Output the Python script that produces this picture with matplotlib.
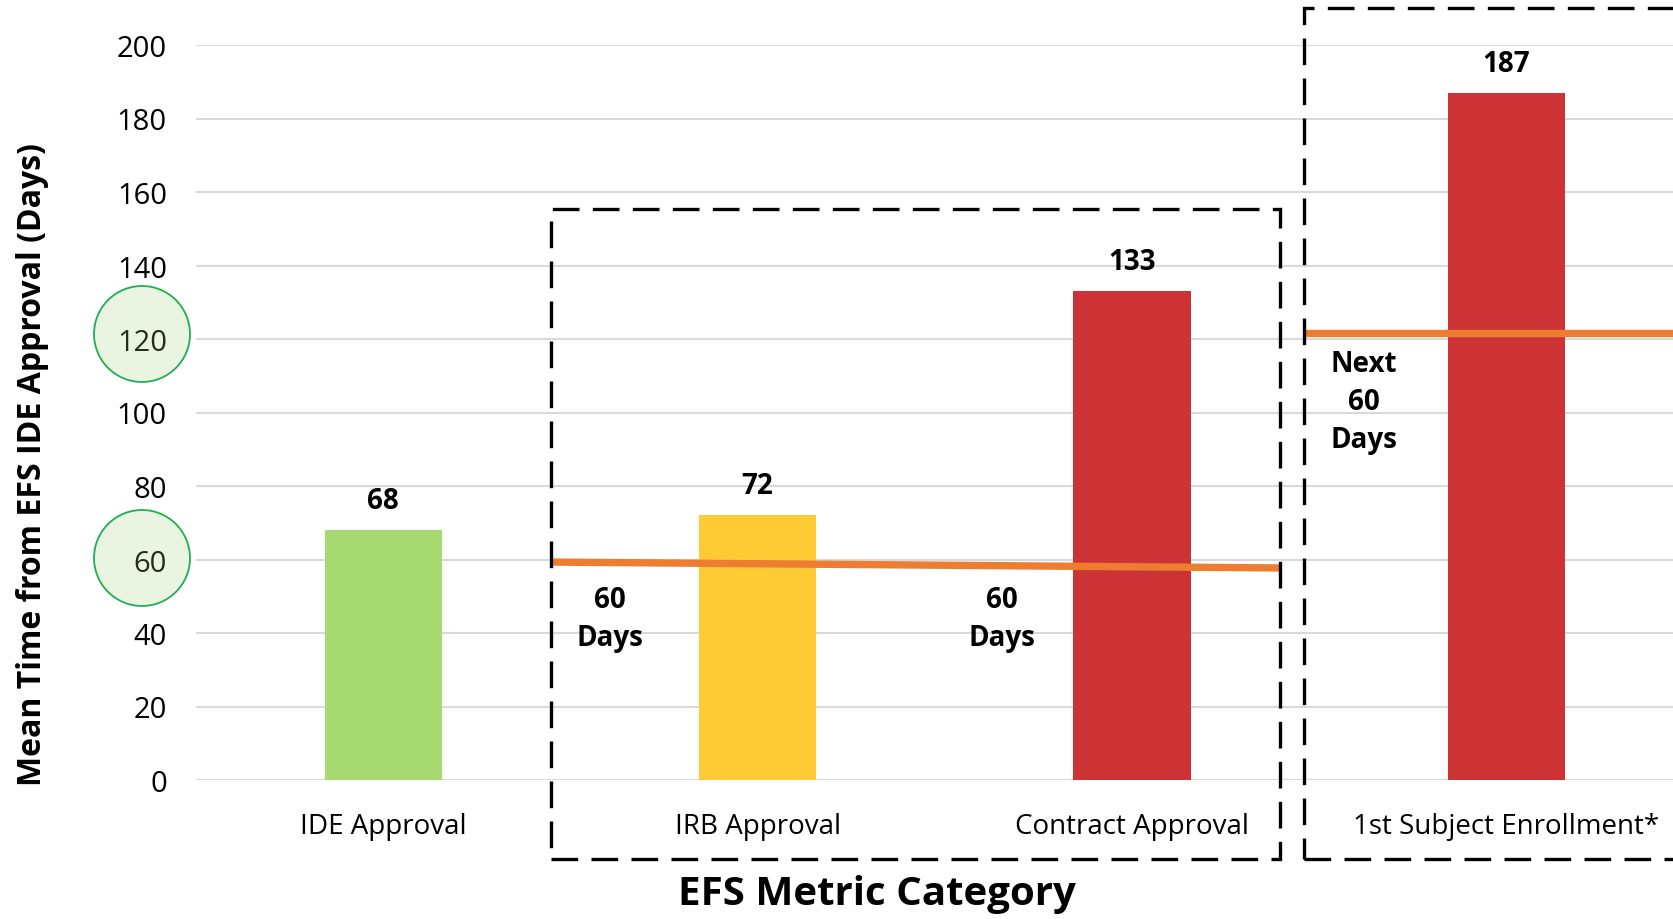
import matplotlib.pyplot as plt
from matplotlib.patches import Rectangle, Ellipse

plt.rcParams['font.family'] = ['Open Sans', 'DejaVu Sans']

# data
categories = ["IDE Approval", "IRB Approval", "Contract Approval", "1st Subject Enrollment*"]
mean_days = [68, 72, 133, 187]
bar_colors = ["#A6D96F", "#FECB35", "#CD3234", "#CD3234"]

# 60-day target lines (x in category units, y in days)
target1_x = [0.449, 2.395]
target1_y = [59.3, 57.7]
target2_x = [2.459, 3.6]
target2_y = [121.6, 121.6]

notes = ["60\nDays", "60\nDays", "Next\n60\nDays"]
notes_x = [0.606, 1.653, 2.62]
notes_y = [44.0, 44.0, 103]

fig = plt.figure(figsize=(16.73, 9.2), dpi=100)
ax = fig.add_axes([196 / 1673, 139 / 920, 1 - 196 / 1673, 735 / 920])

x = list(range(len(categories)))
ax.bar(x, mean_days, width=0.313, color=bar_colors, zorder=2)
for xi, v in zip(x, mean_days):
    ax.text(xi, v + 8.0, str(v), ha='center', va='center', fontsize=20, fontweight='bold')

ax.set_xlim(-0.5, 3.445)
ax.set_ylim(0, 200)
ax.set_yticks(range(0, 201, 20))
ax.set_xticks(x)
ax.set_xticklabels(categories)
ax.tick_params(axis='both', length=0)
ax.tick_params(axis='y', pad=21, labelsize=21)
ax.tick_params(axis='x', pad=23, labelsize=20)
ax.grid(axis='y', color='#D9D9D9', linewidth=1.5, zorder=0)
ax.set_axisbelow(True)
for s in ax.spines.values():
    s.set_visible(False)

ax.set_ylabel("Mean Time from EFS IDE Approval (Days)", fontsize=23, fontweight='bold')
ax.yaxis.set_label_coords(-0.111, 0.431)
ax.set_xlabel("EFS Metric Category", fontsize=29, fontweight='bold')
ax.xaxis.set_label_coords(0.461, -0.154)
ax.xaxis.label.set_va('center')
ax.yaxis.label.set_va('center')

# orange target lines
ax.plot(target1_x, target1_y, color='#ED7D31', linewidth=5.3, solid_capstyle='butt', zorder=3, clip_on=False)
ax.plot(target2_x, target2_y, color='#ED7D31', linewidth=5.3, solid_capstyle='butt', zorder=3, clip_on=False)

for t, tx, ty in zip(notes, notes_x, notes_y):
    ax.text(tx, ty, t, ha='center', va='center', fontsize=20, fontweight='bold', linespacing=1.4)

# dashed boxes
dash = (0, (8, 4))
ax.add_patch(Rectangle((0.449, -21.5), 2.395 - 0.449, 155.4 + 21.5, fill=False,
                       edgecolor='black', linewidth=2.4, linestyle=dash, clip_on=False, zorder=4))
ax.add_patch(Rectangle((2.459, -21.5), 1.5, 210.2 + 21.5, fill=False,
                       edgecolor='black', linewidth=2.4, linestyle=dash, clip_on=False, zorder=4))

# circles around 120 and 60
for cy in [335, 559]:
    fig.patches.append(Ellipse((142 / 1673, (920 - cy) / 920), 96 / 1673, 96 / 920,
                               transform=fig.transFigure, facecolor='#9CD17A', alpha=0.22,
                               edgecolor='none', zorder=5))
    fig.patches.append(Ellipse((142 / 1673, (920 - cy) / 920), 96 / 1673, 96 / 920,
                               transform=fig.transFigure, facecolor='none',
                               edgecolor='#1DB053', linewidth=1.3, zorder=5))

fig.savefig("out.png", dpi=100)
